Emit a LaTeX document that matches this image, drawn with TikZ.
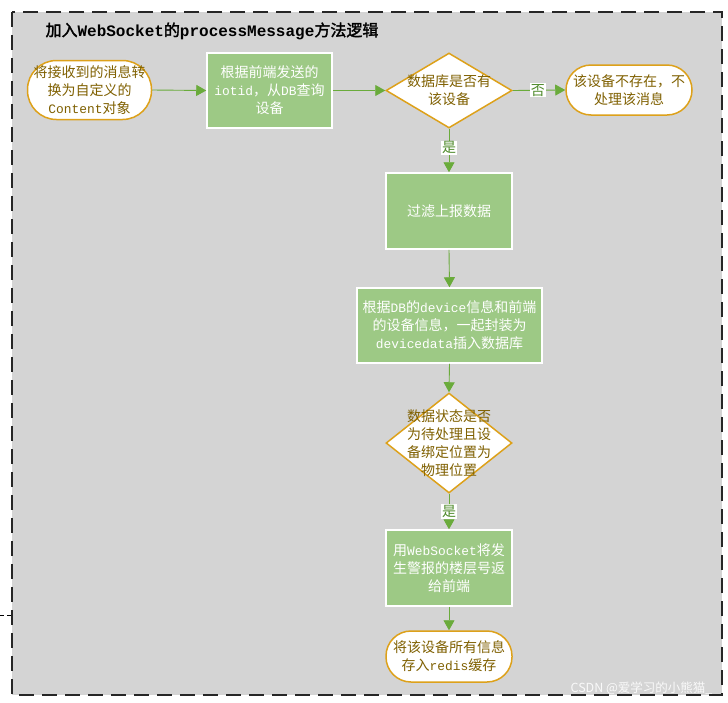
\documentclass[tikz,border=0pt]{standalone}
\usepackage{fontspec}
\setmainfont{Noto Sans CJK SC}[AutoFakeBold=2]
\newfontfamily\lm{Liberation Mono}[Scale=0.92]
\newfontfamily\lmt{Liberation Mono}
\usetikzlibrary{shapes.geometric,arrows.meta}
\definecolor{bgc}{HTML}{D4D4D4}
\definecolor{gfill}{HTML}{9DC985}
\definecolor{gline}{HTML}{6AAB3B}
\definecolor{ocol}{HTML}{DDA11A}
\definecolor{tcol}{HTML}{7F6000}
\definecolor{lcol}{HTML}{4E8A2A}
\tikzset{
  txt/.style={font=\fontsize{14}{18}\selectfont, align=center},
  term/.style={txt, draw=ocol, fill=white, line width=1.5pt, text=tcol, inner sep=0pt},
  gbox/.style={txt, draw=white, fill=gfill, line width=1.5pt, text=white, inner sep=0pt},
  dia/.style={diamond, draw=ocol, fill=white, line width=1.5pt, inner sep=0pt},
  dtext/.style={txt, text=tcol, inner sep=0pt},
  conn/.style={draw=gline, line width=0.9pt, -{Triangle[length=10pt,width=11pt]}},
  lab/.style={fill=white, text=lcol, inner sep=1pt, font=\fontsize{14}{16}\selectfont}
}
\begin{document}
\begin{tikzpicture}[x=1pt,y=-1pt]
\useasboundingbox (0,0) rectangle (728,702);
\draw[fill=bgc, line width=2pt, dash pattern=on 15pt off 8pt, draw=black!85] (12,12) rectangle (722,695);
\coordinate (sa) at (0,615);
\coordinate (sb) at (11,615);
\draw[black, line width=1pt, dash pattern=on 4pt off 3pt] (sa) -- (sb);
\node[font=\bfseries\fontsize{16}{18}\selectfont, text=black] (title) at (212,31) {加入{\lmt\bfseries WebSocket}的{\lmt\bfseries processMessage}方法逻辑};

\node[term, rounded corners=29pt, minimum width=124pt, minimum height=59pt] (t1) at (89.5,90) {将接收到的消息转\\换为自定义的\\{\lm Content}对象};
\node[gbox, minimum width=125pt, minimum height=75pt] (b1) at (269.5,90.5) {根据前端发送的\\{\lm iotid}，从{\lm DB}查询\\设备};
\node[dia, minimum width=126pt, minimum height=75pt] (d1) at (449,90.5) {};
\node[dtext] (d1t) at (d1) {数据库是否有\\该设备};
\node[term, rounded corners=25pt, minimum width=126pt, minimum height=50pt] (t2) at (629,90) {该设备不存在，不\\处理该消息};
\node[gbox, minimum width=126pt, minimum height=76pt] (b2) at (449,211) {过滤上报数据};
\node[gbox, minimum width=185pt, minimum height=75pt] (b3) at (449.5,325.5) {根据{\lm DB}的{\lm device}信息和前端\\的设备信息，一起封装为\\{\lm devicedata}插入数据库};
\node[dia, minimum width=126pt, minimum height=100pt] (d2) at (449,443) {};
\node[dtext] (d2t) at (d2) {数据状态是否\\为待处理且设\\备绑定位置为\\物理位置};
\node[gbox, minimum width=126pt, minimum height=76pt] (b4) at (449,568) {用{\lm WebSocket}将发\\生警报的楼层号返\\给前端};
\node[term, rounded corners=25pt, minimum width=126pt, minimum height=51pt] (t3) at (449,656.5) {将该设备所有信息\\存入{\lm redis}缓存};

\draw[conn] (t1.east) -- (b1.west);
\draw[conn] (b1.east) -- (d1.west);
\draw[conn] (d1.east) -- node[lab, pos=0.48] (no1) {否} (t2.west);
\draw[conn] (d1.south) -- node[lab, pos=0.44] (yes1) {是} (b2.north);
\draw[conn] (b2.south) -- (b3.north);
\draw[conn] (b3.south) -- (d2.north);
\draw[conn] (d2.south) -- node[lab, pos=0.5] (yes2) {是} (b4.north);
\draw[conn] (b4.south) -- (t3.north);

\node[text=white!95!gray, font=\fontsize{12.5}{14}\selectfont, anchor=east] (wm) at (716,688) {CSDN @爱学习的小熊猫\_};
\end{tikzpicture}
\end{document}
